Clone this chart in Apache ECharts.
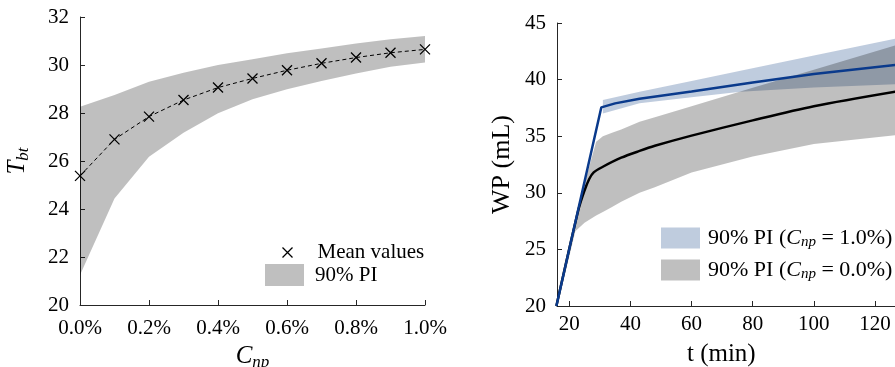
<!DOCTYPE html>
<html>
<head>
<meta charset="utf-8">
<script src="https://cdn.jsdelivr.net/npm/echarts@6/dist/echarts.min.js"></script>
<style>
  html, body { margin: 0; padding: 0; background: #fff; }
  #chart { width: 895px; height: 367px; }
</style>
</head>
<body>
<div id="chart"></div>
<script>
// left panel: breakthrough time vs nanoparticle concentration
const cnp = [0, 0.1, 0.2, 0.3, 0.4, 0.5, 0.6, 0.7, 0.8, 0.9, 1.0];
const meanT = [25.38, 26.9, 27.85, 28.54, 29.06, 29.44, 29.78, 30.07, 30.31, 30.51, 30.65];
const upperT = [28.26, 28.75, 29.3, 29.68, 30.0, 30.24, 30.49, 30.69, 30.9, 31.07, 31.21];
const lowerT = [21.25, 24.44, 26.18, 27.18, 27.99, 28.57, 28.99, 29.33, 29.65, 29.93, 30.1];

// right panel: water production vs time
const tBlue = [15.8, 30.5, 35, 43, 60, 80, 100, 127];
const wpBlue = [20, 37.55, 37.9, 38.3, 38.95, 39.75, 40.5, 41.3];
const tBlueBand = [31, 43, 60, 76, 100, 127];
const blueLo = [37.0, 37.9, 38.45, 38.93, 39.3, 39.6];
const blueHi = [38.2, 38.93, 39.88, 40.78, 42.12, 43.63];

const tBlack = [15.8, 23, 25, 26.5, 28, 31, 37, 43, 48, 60, 80, 100, 127];
const wpBlack = [20, 28.5, 30.2, 31.2, 31.8, 32.3, 33.1, 33.7, 34.15, 35.05, 36.4, 37.65, 38.95];
const tGray = [16, 22, 25, 28.8, 31, 34, 37, 43, 48, 60, 80, 100, 127];
const grayLo = [19.9, 26.6, 27.35, 28.0, 28.3, 28.75, 29.2, 30.0, 30.5, 31.8, 33.2, 34.3, 35.1];
const grayHi = [19.9, 27.2, 30.8, 34.5, 35.0, 35.3, 35.6, 36.28, 36.68, 37.65, 39.27, 40.88, 43.06];

const tTicks = [20, 40, 60, 80, 100, 120];

const FONT = "Liberation Serif";
const AXIS_COLOR = '#262626';
const CROSS = 'path://M0,0L10,10M10,0L0,10';

function zip(xs, ys) {
  return xs.map((x, i) => [x, ys[i]]);
}

// one polygon for the whole band, built through the axes' coord()
function bandSeries(name, xs, lo, hi, fill, xi) {
  return {
    name: name,
    type: 'custom',
    xAxisIndex: xi,
    yAxisIndex: xi,
    itemStyle: { color: fill },
    data: xs.map((x, i) => [x, lo[i], hi[i]]),
    encode: { x: 0, y: [1, 2] },
    renderItem: function (params, api) {
      if (params.dataIndex !== 0) return null;
      const pts = [];
      for (let i = 0; i < xs.length; i++) pts.push(api.coord([xs[i], hi[i]]));
      for (let i = xs.length - 1; i >= 0; i--) pts.push(api.coord([xs[i], lo[i]]));
      return { type: 'polygon', shape: { points: pts }, style: { fill: fill } };
    }
  };
}

const labelStyle = { color: '#000', fontFamily: FONT, fontSize: 21 };
const axisCommon = {
  axisLine: { show: true, lineStyle: { color: AXIS_COLOR, width: 1 } },
  axisTick: { show: true, inside: true, length: 5, lineStyle: { color: AXIS_COLOR } },
  splitLine: { show: false }
};

const subRich = {
  i: { fontFamily: FONT, fontStyle: 'italic', fontSize: 25, lineHeight: 30, color: '#000' },
  s: { fontFamily: FONT, fontStyle: 'italic', fontSize: 17, lineHeight: 16, verticalAlign: 'bottom', color: '#000' }
};

let myChart = echarts.init(document.getElementById('chart'), null, { renderer: 'canvas' });

let option = {
  animation: false,
  backgroundColor: '#fff',
  textStyle: { fontFamily: FONT, color: '#000' },
  grid: [
    { left: 80, top: 17, width: 345, height: 288, outerBoundsMode: 'none' },
    { left: 557, top: 23, width: 348.6, height: 283, outerBoundsMode: 'none' }
  ],
  xAxis: [
    Object.assign({}, axisCommon, {
      type: 'value', gridIndex: 0, min: 0, max: 1, interval: 0.2,
      axisLabel: Object.assign({}, labelStyle, {
        margin: 13,
        formatter: v => v.toFixed(1) + '%'
      }),
      name: '{i|C}{s|np}', nameLocation: 'middle', nameGap: 36,
      nameTextStyle: { rich: subRich }
    }),
    Object.assign({}, axisCommon, {
      type: 'value', gridIndex: 1, min: 16, max: 130,
      axisTick: Object.assign({}, axisCommon.axisTick, { customValues: tTicks }),
      axisLabel: Object.assign({}, labelStyle, { margin: 8, customValues: tTicks }),
      name: 't (min)', nameLocation: 'middle', nameGap: 36,
      nameTextStyle: { fontFamily: FONT, fontSize: 25, color: '#000', padding: [0, 20, 0, 0] }
    })
  ],
  yAxis: [
    Object.assign({}, axisCommon, {
      type: 'value', gridIndex: 0, min: 20, max: 32, interval: 2,
      axisLabel: Object.assign({}, labelStyle, { margin: 11 }),
      name: '{i|T}{s|bt}', nameLocation: 'middle', nameGap: 48, nameRotate: 90,
      nameTextStyle: { rich: subRich }
    }),
    Object.assign({}, axisCommon, {
      type: 'value', gridIndex: 1, min: 20, max: 45, interval: 5,
      axisLabel: Object.assign({}, labelStyle, { margin: 11 }),
      name: 'WP (mL)', nameLocation: 'middle', nameGap: 42, nameRotate: 90,
      nameTextStyle: { fontFamily: FONT, fontSize: 26, color: '#000' }
    })
  ],
  legend: [
    {
      left: 280, top: 242, padding: 0, itemWidth: 10, itemHeight: 10,
      data: [{
        name: 'Mean values', icon: CROSS,
        itemStyle: { color: 'none', borderColor: '#000', borderWidth: 1.3 }
      }],
      textStyle: { fontFamily: FONT, fontSize: 21, color: '#000', padding: [0, 0, 0, 20] }
    },
    {
      left: 265, top: 264, padding: 0, itemWidth: 39, itemHeight: 22,
      data: [{ name: '90% PI', icon: 'rect' }],
      textStyle: { fontFamily: FONT, fontSize: 21, color: '#000', padding: [0, 0, 0, 6] }
    },
    {
      left: 661, top: 226, padding: 0, orient: 'vertical', itemWidth: 39, itemHeight: 21, itemGap: 8,
      data: [
        { name: '90% PI (Cnp = 1.0%)', icon: 'rect' },
        { name: '90% PI (Cnp = 0.0%)', icon: 'rect' }
      ],
      formatter: function (name) {
        return '{r|' + name.replace('Cnp', '}{i|C}{s|np}{r|') + '}';
      },
      textStyle: {
        fontFamily: FONT, fontSize: 22, lineHeight: 24, color: '#000', padding: [0, 0, 0, 3],
        rich: {
          r: { fontFamily: FONT, fontSize: 22, lineHeight: 24, color: '#000' },
          i: { fontFamily: FONT, fontStyle: 'italic', fontSize: 22, lineHeight: 24, color: '#000' },
          s: { fontFamily: FONT, fontStyle: 'italic', fontSize: 15, lineHeight: 13, verticalAlign: 'bottom', color: '#000' }
        }
      }
    }
  ],
  series: [
    bandSeries('90% PI', cnp, lowerT, upperT, 'rgba(0,0,0,0.25)', 0),
    {
      name: 'Mean values',
      type: 'line',
      xAxisIndex: 0, yAxisIndex: 0,
      data: zip(cnp, meanT),
      symbol: CROSS,
      symbolSize: 10,
      itemStyle: { color: 'none', borderColor: '#000', borderWidth: 1.3 },
      lineStyle: { color: '#000', width: 1, type: [4, 3] },
      z: 3
    },
    bandSeries('90% PI (Cnp = 1.0%)', tBlueBand, blueLo, blueHi, 'rgba(0,51,125,0.25)', 1),
    bandSeries('90% PI (Cnp = 0.0%)', tGray, grayLo, grayHi, 'rgba(0,0,0,0.25)', 1),
    {
      name: 'mean 0.0%',
      type: 'line',
      xAxisIndex: 1, yAxisIndex: 1,
      data: zip(tBlack, wpBlack),
      smooth: 0.3,
      showSymbol: false,
      lineStyle: { color: '#000', width: 2.5 },
      z: 3
    },
    {
      name: 'mean 1.0%',
      type: 'line',
      xAxisIndex: 1, yAxisIndex: 1,
      data: zip(tBlue, wpBlue),
      showSymbol: false,
      lineStyle: { color: '#0a3a8c', width: 2.5 },
      z: 4
    }
  ]
};

myChart.setOption(option);
</script>
</body>
</html>
